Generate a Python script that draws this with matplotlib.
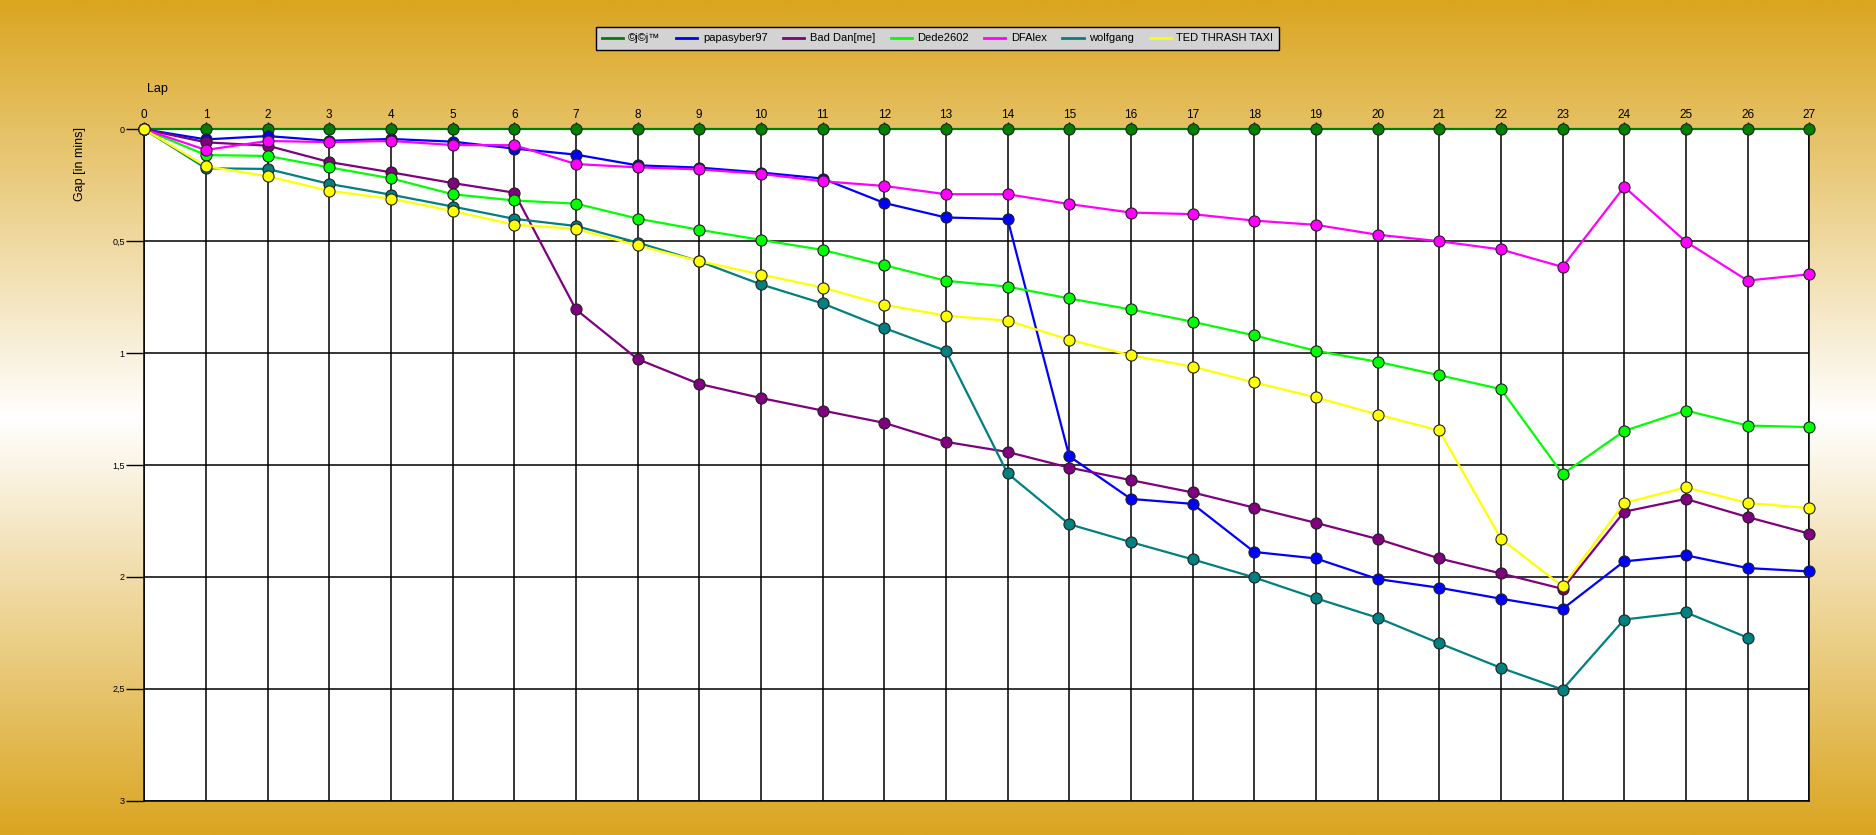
import numpy as np
import matplotlib
matplotlib.use("Agg")
import matplotlib.pyplot as plt
from matplotlib.lines import Line2D

plt.rcParams['font.family'] = ['Liberation Sans', 'DejaVu Sans']

laps = list(range(28))

leader = [0.0] * 28
papasyber97 = [0, 0.045, 0.030, 0.051, 0.043, 0.055, 0.086, 0.113, 0.161, 0.171,
               0.193, 0.220, 0.329, 0.394, 0.401, 1.461, 1.652, 1.674, 1.889, 1.918,
               2.010, 2.049, 2.098, 2.144, 1.931, 1.904, 1.961, 1.976]
bad_dan = [0, 0.058, 0.073, 0.146, 0.192, 0.240, 0.283, 0.805, 1.027, 1.138,
           1.201, 1.257, 1.312, 1.397, 1.442, 1.512, 1.568, 1.623, 1.691, 1.759,
           1.831, 1.918, 1.985, 2.054, 1.709, 1.652, 1.733, 1.807]
dede2602 = [0, 0.115, 0.119, 0.170, 0.219, 0.290, 0.318, 0.332, 0.399, 0.449,
            0.494, 0.539, 0.607, 0.677, 0.703, 0.756, 0.805, 0.860, 0.921, 0.990,
            1.039, 1.099, 1.161, 1.541, 1.348, 1.257, 1.324, 1.331]
dfalex = [0, 0.092, 0.052, 0.057, 0.052, 0.070, 0.071, 0.155, 0.170, 0.179,
          0.199, 0.232, 0.253, 0.290, 0.290, 0.334, 0.372, 0.379, 0.408, 0.427,
          0.471, 0.500, 0.537, 0.615, 0.257, 0.502, 0.676, 0.648]
wolfgang = [0, 0.174, 0.177, 0.244, 0.292, 0.345, 0.400, 0.432, 0.506, 0.590,
            0.693, 0.778, 0.888, 0.990, 1.538, 1.765, 1.845, 1.922, 2.003, 2.096,
            2.183, 2.297, 2.407, 2.504, 2.191, 2.159, 2.272, np.nan]
ted = [0, 0.165, 0.210, 0.275, 0.310, 0.365, 0.426, 0.445, 0.519, 0.589,
       0.649, 0.707, 0.784, 0.833, 0.855, 0.940, 1.010, 1.061, 1.131, 1.198,
       1.275, 1.346, 1.830, 2.043, 1.670, 1.600, 1.670, 1.693]

names = ['©j©j™', 'papasyber97', 'Bad Dan[me]', 'Dede2602', 'DFAlex', 'wolfgang', 'TED THRASH TAXI']
series = [leader, papasyber97, bad_dan, dede2602, dfalex, wolfgang, ted]
colors = ['#008000', '#0000FF', '#800080', '#00FF00', '#FF00FF', '#008080', '#FFFF00']

y_ticks = [0, 0.5, 1, 1.5, 2, 2.5, 3]
y_labels = ['0', '0,5', '1', '1,5', '2', '2,5', '3']

fig = plt.figure(figsize=(18.76, 8.35), dpi=100)

# background gradient gold -> white -> gold
bg = fig.add_axes([0, 0, 1, 1], zorder=-10)
t = np.abs(np.linspace(-1, 1, 400))[:, None]
gold = np.array([218, 165, 32]) / 255.0
white = np.array([1.0, 1.0, 1.0])
grad = white + (gold - white) * t[:, :, None]
bg.imshow(grad, aspect='auto', extent=[0, 1, 0, 1])
bg.axis('off')

ax = fig.add_axes([0.0769, 0.0413, 0.8875, 0.8038])
ax.set_facecolor('white')

for name, vals, c in zip(names, series, colors):
    ax.plot(laps, vals, color=c, lw=1.6, marker='o', markersize=8,
            markerfacecolor=c, markeredgecolor='#222222', markeredgewidth=0.8,
            clip_on=False, zorder=3)

ax.set_xlim(0, 27)
ax.set_ylim(3, 0)
ax.xaxis.tick_top()
ax.set_xticks(laps)
ax.set_xticklabels([str(l) for l in laps], fontsize=8.5)
ax.set_yticks(y_ticks)
ax.set_yticklabels(y_labels, fontsize=6.5)
ax.tick_params(axis='x', direction='out', length=5, width=1, pad=1)
ax.tick_params(axis='y', direction='out', length=13, width=1, pad=1)
ax.grid(True, color='black', lw=1.1)
for s in ax.spines.values():
    s.set_color('black')
    s.set_linewidth(1.1)

fig.text(147 / 1876, 1 - 89 / 835, 'Lap', ha='left', va='center', fontsize=9)
fig.text(80 / 1876, 1 - 164 / 835, 'Gap [in mins]', rotation=90,
         ha='center', va='center', fontsize=9)

handles = [Line2D([0], [0], color=c, lw=2) for c in colors]
leg = fig.legend(handles, names, loc='center', bbox_to_anchor=(0.4997, 0.954),
                 ncol=7, fontsize=8, frameon=True, fancybox=False,
                 facecolor='#D3D3D3', edgecolor='black', framealpha=1,
                 handlelength=1.9, handletextpad=0.5, columnspacing=1.4,
                 borderpad=0.55)
leg.get_frame().set_linewidth(1.0)

fig.savefig('out.png', dpi=100)
